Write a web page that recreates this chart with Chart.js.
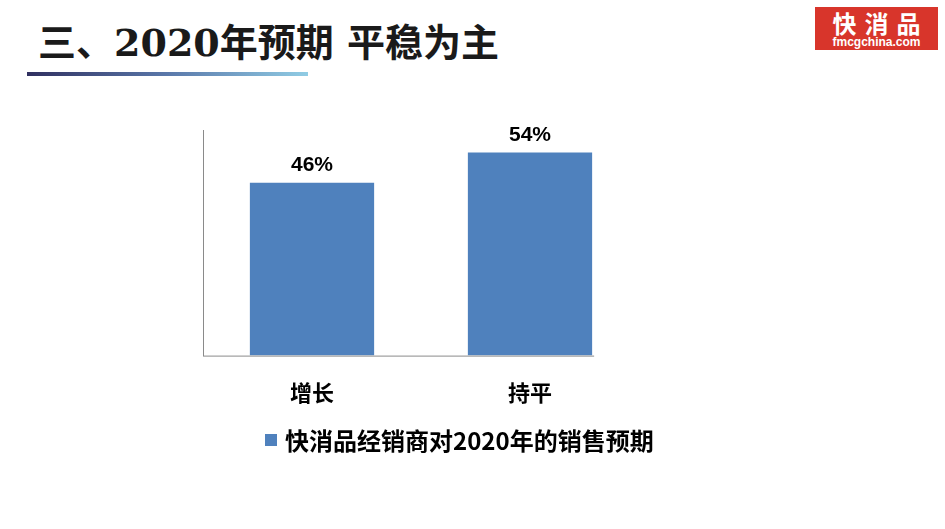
<!DOCTYPE html>
<html>
<head>
<meta charset="utf-8">
<script src="https://cdn.jsdelivr.net/npm/chart.js@4"></script>
<style>
  html, body { margin: 0; padding: 0; background: #fff; }
  body { width: 945px; height: 529px; position: relative; overflow: hidden; }
  #titulo {
    position: absolute; left: 38px; top: 19px;
    font: bold 38px 'DejaVu Serif', 'Noto Sans CJK SC', serif;
    color: #1a1a1a; white-space: pre; line-height: 48px;
  }
  #linha {
    position: absolute; left: 27px; top: 72px; width: 281px; height: 4px;
    background: linear-gradient(to right, #303060, #5a78aa 50%, #90cce4);
  }
  #logo {
    position: absolute; left: 815px; top: 7px; width: 123px; height: 43px;
    background: #d8352b; color: #fff; text-align: center;
    font-family: 'Noto Sans CJK SC', sans-serif; font-weight: bold;
  }
  #logo .a { font-size: 24px; letter-spacing: 8px; line-height: 27px; padding-left: 8px; margin-top: 2px; }
  #logo .b { font: bold 12px 'Liberation Sans', Arial, sans-serif; line-height: 13px; }
  #grafico { position: absolute; left: 0; top: 0; }
  #legenda {
    position: absolute; left: 265px; top: 422px;
    font: bold 24px 'Noto Sans CJK SC', sans-serif; color: #000;
    display: flex; align-items: center; white-space: nowrap;
  }
  #legenda i { display: inline-block; width: 12px; height: 12px; margin-right: 8px; }
</style>
</head>
<body>
<div id="titulo">三、2020年预期 平稳为主</div>
<div id="linha"></div>
<div id="logo"><div class="a">快消品</div><div class="b">fmcgchina.com</div></div>
<canvas id="grafico" width="945" height="529"></canvas>
<div id="legenda"></div>

<script>
const categorias = ['增长', '持平'];
const valores = [46, 54];
const serieNome = '快消品经销商对2020年的销售预期';

const corBarra = '#4f81bd';
const corEixo = '#8a8a8a';
const corTexto = '#000000';

document.getElementById('legenda').innerHTML =
  '<i style="background:' + corBarra + '"></i>' + serieNome;

// rótulos em cima das barras + linha do eixo x só até a última barra
const rotulosPlugin = {
  id: 'rotulos',
  afterDatasetsDraw(chart) {
    const c = chart.ctx;
    const meta = chart.getDatasetMeta(0);
    c.save();
    c.fillStyle = corTexto;
    c.font = 'bold 21px "Liberation Sans", Arial, sans-serif';
    c.textAlign = 'center';
    c.textBaseline = 'alphabetic';
    meta.data.forEach((bar, i) => {
      c.fillText(chart.data.datasets[0].data[i] + '%', bar.x, bar.y - 12);
    });
    const ultima = meta.data[meta.data.length - 1];
    const fim = ultima.x + ultima.width / 2 + 2;
    const y = chart.chartArea.bottom + 0.5;
    c.strokeStyle = corEixo;
    c.lineWidth = 1;
    c.beginPath();
    c.moveTo(chart.chartArea.left, y);
    c.lineTo(fim, y);
    c.stroke();
    c.restore();
  }
};

new Chart(document.getElementById('grafico'), {
  type: 'bar',
  data: {
    labels: categorias,
    datasets: [{
      label: serieNome,
      data: valores,
      backgroundColor: corBarra,
      borderWidth: 0,
      categoryPercentage: 1,
      barPercentage: 0.57
    }]
  },
  options: {
    responsive: false,
    animation: false,
    layout: { padding: { left: 203, right: 306, top: 130, bottom: 99 } },
    plugins: {
      legend: { display: false },
      tooltip: { enabled: false }
    },
    scales: {
      x: {
        grid: { display: false, drawTicks: false },
        border: { display: false },
        ticks: {
          color: corTexto,
          padding: 24,
          font: { size: 22, weight: 'bold', family: '"Noto Sans CJK SC", sans-serif' }
        }
      },
      y: {
        min: 0,
        max: 60,
        grid: { display: false, drawTicks: false },
        border: { display: true, color: corEixo, width: 1 },
        ticks: { display: false }
      }
    }
  },
  plugins: [rotulosPlugin]
});
</script>
</body>
</html>
